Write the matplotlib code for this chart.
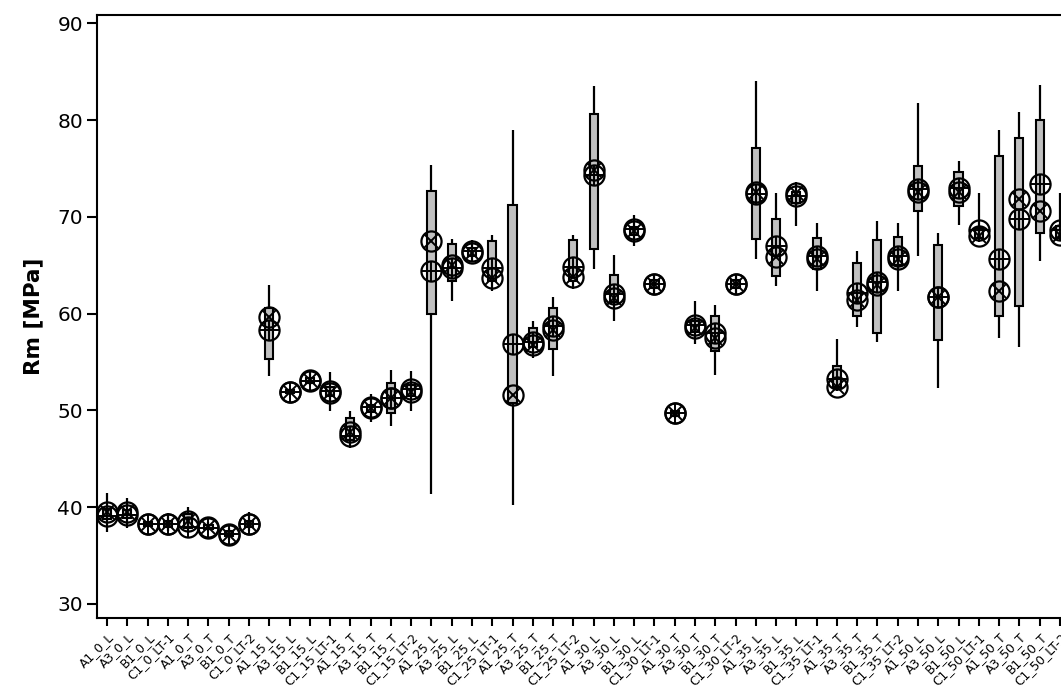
import matplotlib.pyplot as plt
import numpy as np

# categories (angle blocks of 8)
categories = []
for ang in ['0', '15', '25', '30', '35', '50']:
    categories += ['A1_%s_L' % ang, 'A3_%s_L' % ang, 'B1_%s_L' % ang, 'C1_%s_LT-1' % ang,
                   'A1_%s_T' % ang, 'A3_%s_T' % ang, 'B1_%s_T' % ang, 'C1_%s_LT-2' % ang]

# whisker low / box low / box high / whisker high
whisk_lo = [37.4, 37.8, 38.0, 37.5, 37.5, 37.5, 36.6, 37.5,
            53.6, 51.6, 52.6, 49.9, 46.1, 48.8, 48.4, 49.9,
            41.4, 61.3, 65.3, 62.3, 40.2, 55.4, 53.6, 62.5,
            64.6, 59.2, 67.0, 61.9, 49.2, 56.9, 53.7, 61.9,
            65.6, 62.9, 69.0, 62.3, 52.0, 58.6, 57.1, 62.3,
            65.9, 52.3, 69.2, 67.4, 57.5, 56.5, 65.4, 67.5]
box_lo = [38.8, 38.9, 38.1, 38.0, 37.8, 37.7, 37.0, 38.0,
          55.3, 51.8, 52.8, 51.5, 46.9, 49.8, 49.7, 51.5,
          60.0, 63.4, 66.0, 63.4, 50.8, 56.5, 56.3, 63.4,
          66.7, 61.2, 68.1, 62.6, 49.4, 58.1, 56.1, 62.6,
          67.7, 63.9, 71.4, 64.6, 52.4, 59.8, 58.0, 65.0,
          70.6, 57.3, 71.1, 67.8, 59.7, 60.8, 68.3, 67.8]
box_hi = [39.8, 39.7, 38.5, 38.6, 39.3, 38.2, 37.5, 38.6,
          60.6, 52.1, 53.3, 52.4, 49.2, 50.6, 52.8, 52.6,
          72.7, 67.2, 66.8, 67.5, 71.2, 58.5, 60.6, 67.6,
          80.6, 64.0, 68.9, 63.5, 49.9, 59.2, 59.7, 63.5,
          77.1, 69.8, 72.6, 67.8, 54.6, 65.2, 67.6, 67.9,
          75.3, 67.1, 74.6, 68.8, 76.3, 78.1, 80.0, 69.0]
whisk_hi = [41.5, 40.9, 38.6, 39.4, 40.0, 38.5, 37.9, 39.5,
            63.0, 52.3, 54.2, 54.0, 49.9, 51.7, 54.2, 54.1,
            75.4, 67.7, 67.6, 68.1, 79.0, 59.2, 61.7, 68.1,
            83.5, 66.1, 70.2, 63.9, 50.0, 61.3, 60.9, 63.9,
            84.0, 72.5, 73.6, 69.4, 57.4, 66.5, 69.6, 69.4,
            81.8, 68.3, 75.8, 72.5, 79.0, 80.8, 83.6, 72.5]
# circle-plus and circle-cross markers
plus_val = [39.1, 39.2, 38.3, 38.3, 38.0, 37.8, 37.2, 38.3,
            58.3, 51.9, 53.0, 52.0, 47.4, 50.3, 51.3, 52.2,
            64.4, 64.7, 66.5, 64.7, 56.9, 57.1, 58.7, 64.8,
            74.3, 62.0, 68.7, 63.1, 49.7, 58.8, 58.0, 63.1,
            72.4, 67.0, 72.1, 65.9, 53.2, 62.1, 63.3, 65.9,
            72.9, 61.7, 73.0, 68.6, 65.6, 69.8, 73.4, 68.6]
cross_val = [39.5, 39.5, 38.3, 38.3, 38.6, 38.0, 37.1, 38.3,
             59.6, 51.9, 53.1, 51.8, 47.8, 50.2, 51.3, 51.9,
             67.5, 65.0, 66.3, 63.7, 51.6, 56.8, 58.3, 63.8,
             74.8, 61.6, 68.5, 63.1, 49.7, 58.5, 57.5, 63.1,
             72.6, 65.8, 72.5, 65.6, 52.4, 61.4, 63.0, 65.6,
             72.6, 61.7, 72.6, 68.0, 62.3, 71.8, 70.6, 68.1]

x = np.arange(len(categories))
whisk_lo, whisk_hi = np.array(whisk_lo), np.array(whisk_hi)
box_lo, box_hi = np.array(box_lo), np.array(box_hi)

fig = plt.figure(figsize=(10.61, 6.86), dpi=100)
ax = fig.add_axes([97 / 1061, 1 - 618 / 686, 973 / 1061, 603 / 686])

ax.vlines(x, whisk_lo, whisk_hi, color='black', lw=1.6, zorder=1)
ax.bar(x, box_hi - box_lo, bottom=box_lo, width=0.4, color='#c0c0c0',
       edgecolor='black', linewidth=1.5, zorder=2)

ms = 14.5
for vals, m, s in [(plus_val, '+', ms), (cross_val, 'x', ms / 1.414)]:
    ax.plot(x, vals, 'o', ms=ms, mfc='none', mec='black', mew=1.6, zorder=3)
    ax.plot(x, vals, m, ms=s, mec='black', mew=1.4, zorder=3)

ax.set_xlim(-0.5, 47.5)
ax.set_ylim(28.55, 90.85)
ax.set_yticks([30, 40, 50, 60, 70, 80, 90])
ax.set_xticks(x)
ax.set_xticklabels(categories, rotation=45, ha='right', rotation_mode='anchor', fontsize=8.8)
ax.tick_params(axis='y', direction='out', length=7, width=1.5, labelsize=14.5, pad=3)
ax.tick_params(axis='x', direction='out', length=6, width=1.5, pad=3)
for sp in ax.spines.values():
    sp.set_linewidth(1.5)
ax.set_ylabel('Rm [MPa]', fontsize=15.5, fontweight='bold', labelpad=10)

fig.savefig('out.png', dpi=100)
